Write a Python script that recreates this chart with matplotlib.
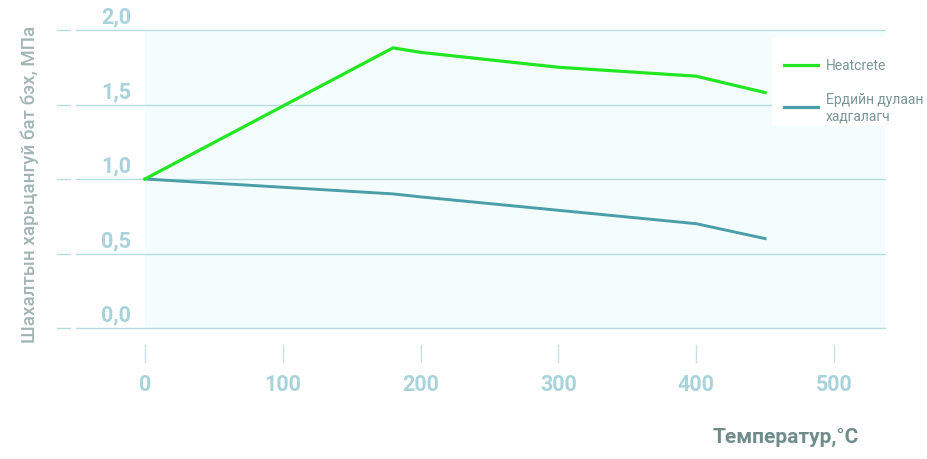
import matplotlib
matplotlib.use("Agg")
import matplotlib.pyplot as plt
from matplotlib import font_manager
from matplotlib.patches import Rectangle

# ---- data ----
temps_heat = [0, 180, 200, 300, 400, 450]
heatcrete = [1.0, 1.88, 1.85, 1.75, 1.69, 1.58]
temps_std = [0, 180, 200, 300, 400, 450]
standard = [1.0, 0.90, 0.88, 0.79, 0.70, 0.60]
x_ticks = [0, 100, 200, 300, 400, 500]
y_ticks = [0.0, 0.5, 1.0, 1.5, 2.0]
y_tick_labels = ["0,0", "0,5", "1,0", "1,5", "2,0"]
series_names = ["Heatcrete", "Ердийн дулаан\nхадгалагч"]
x_label = "Температур,°C"
y_label = "Шахалтын харьцангуй бат бэх, МПа"

names = {f.name for f in font_manager.fontManager.ttflist}
tick_font = "Liberation Sans Narrow" if "Liberation Sans Narrow" in names else "Roboto"
plt.rcParams['font.family'] = ['Roboto', 'DejaVu Sans']

W, H = 928, 460
fig = plt.figure(figsize=(W / 100, H / 100), dpi=100)
ax = fig.add_axes([0, 0, 1, 1])
# pixel mapping: x=0 -> px 145, x=500 -> px 834 ; y=0 -> py 329, y=2 -> py 31
sx = (834 - 145) / 500.0
sy = (329 - 31) / 2.0
px = lambda p: (p - 145) / sx
py = lambda p: (329 - p) / sy
ax.set_xlim(px(0), px(W))
ax.set_ylim(py(H), py(0))
ax.axis('off')

grid_c = "#b6dce0"
tick_c = "#a9d3db"

# plot background
ax.add_patch(Rectangle((0, 0), px(885) - 0, 2.0, facecolor="#f4fdfd", edgecolor="none", zorder=0))

# grid lines
for v in y_ticks:
    ax.plot([px(57), px(70)], [v, v], color=grid_c, lw=1.0, zorder=1)
    ax.plot([px(76), px(885)], [v, v], color=grid_c, lw=1.0, zorder=1)

# legend white box
ax.add_patch(Rectangle((px(772), py(127)), px(W) - px(772), py(38) - py(127),
                       facecolor="white", edgecolor="none", zorder=2))

# x tick marks
for t in x_ticks:
    ax.plot([t, t], [py(346), py(363)], color="#c6e2e6", lw=1.0, zorder=1)
    ax.text(t, py(385), str(t), ha='center', va='center', fontsize=15.5,
            fontweight='bold', color=tick_c, family=tick_font)

for v, lab in zip(y_ticks, y_tick_labels):
    ax.text(px(131), v + 0.09, lab, ha='right', va='center', fontsize=15.5,
            fontweight='bold', color=tick_c, family=tick_font)

# series
ax.plot(temps_heat, heatcrete, color="#22e622", lw=2.3, zorder=4, solid_joinstyle='round')
ax.plot(temps_std, standard, color="#4a9ea8", lw=2.1, zorder=3, solid_joinstyle='round')

# legend
ax.plot([px(784), px(818)], [py(66), py(66)], color="#22e622", lw=2.3, zorder=5)
ax.plot([px(784), px(818)], [py(108), py(108)], color="#4a9ea8", lw=2.3, zorder=5)
ax.text(px(826), py(66), series_names[0], ha='left', va='center', fontsize=10,
        color="#7a9696", zorder=5)
ax.text(px(826), py(108.5), series_names[1], ha='left', va='center', fontsize=10,
        color="#7a9696", zorder=5, linespacing=1.2)

# axis labels
ax.text(px(859), py(437), x_label, ha='right', va='center', fontsize=15,
        fontweight='bold', color="#6f8c8c")
ax.text(px(30), py(184), y_label, ha='center', va='center', rotation=90,
        fontsize=13.5, fontweight='medium', color="#a2b5b5")

fig.savefig("out.png", dpi=100)
